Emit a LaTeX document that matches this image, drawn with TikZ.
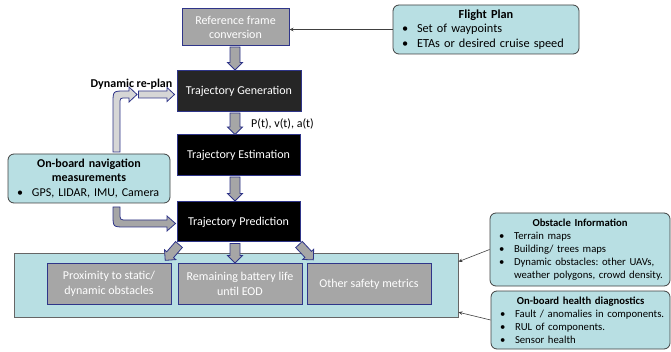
\documentclass[tikz,border=0pt]{standalone}
\usepackage{fontspec}
\setmainfont{Carlito}
\usetikzlibrary{arrows.meta,calc}
\frenchspacing
\definecolor{tealbg}{HTML}{B8DFE3}
\definecolor{gfill}{HTML}{A6A6A6}
\definecolor{navy}{HTML}{2F3589}
\definecolor{edgegray}{HTML}{404040}
\definecolor{darkbox}{HTML}{262626}
\definecolor{lightarrow}{HTML}{D6D6D6}
\newcommand\bul[1]{\par\noindent\hspace*{2pt}\makebox[15pt][l]{\textbullet}\mbox{#1}}
\newcommand\contline[1]{\par\noindent\hspace*{17pt}\mbox{#1}}
\tikzset{
  procbox/.style={draw=navy, line width=1pt, inner sep=2pt, align=center, text=white,
    font=\fontsize{12}{14.6}\selectfont},
  graybox/.style={procbox, fill=gfill, minimum width=124pt, minimum height=40pt},
  infobox/.style={draw=edgegray, line width=0.8pt, fill=tealbg, rounded corners=6pt,
    inner xsep=7pt, inner ysep=2pt, align=left},
  thinarrow/.style={draw=edgegray, line width=0.6pt, -{Stealth[length=4pt,width=3.5pt]}},
  pics/barrow/.style args={#1/#2/#3/#4}{code={
    \draw[draw=navy, fill=#4, line width=0.8pt]
      (0,-#2) -- ({#1-7.5},-#2) -- ({#1-7.5},-#3) -- (#1,0) -- ({#1-7.5},#3)
      -- ({#1-7.5},#2) -- (0,#2) -- cycle;}},
}
\begin{document}
\begin{tikzpicture}[x=1pt,y=-1pt]
\useasboundingbox (0,0) rectangle (671,352);

% main chain
\node[procbox, fill=gfill, minimum width=107pt, minimum height=37pt] (ref) at (235.5,27.5) {Reference frame\\conversion};
\node[procbox, fill=darkbox, minimum width=124pt, minimum height=41pt] (gen) at (239,91.5) {Trajectory Generation};
\node[procbox, fill=black, minimum width=123pt, minimum height=41pt] (est) at (238.5,155.5) {Trajectory Estimation};
\node[procbox, fill=black, minimum width=123pt, minimum height=40pt] (pred) at (238.5,222) {Trajectory Prediction};

% container with metrics
\node[draw=edgegray!80, line width=0.8pt, fill=tealbg, minimum width=444pt, minimum height=64pt, inner sep=0pt] (cont) at (236,285) {};
\node[graybox] (prox) at (109,284) {Proximity to static/\\dynamic obstacles};
\node[graybox] (batt) at (240,284) {Remaining battery life\\until EOD};
\node[graybox] (other) at (369,284) {Other safety metrics};

% info boxes
\node[infobox, minimum width=186pt, minimum height=49pt, text width=172pt,
  font=\fontsize{12.3}{14.6}\selectfont] (flight) at (486,29.5)
  {{\centering\bfseries Flight Plan\par}\bul{Set of waypoints}\bul{ETAs or desired cruise speed}};
\node[infobox, minimum width=162pt, minimum height=49pt, text width=148pt,
  font=\fontsize{12}{14.8}\selectfont] (nav) at (89,178.5)
  {{\centering\bfseries On-board navigation\\measurements\par}\bul{GPS, LIDAR, IMU, Camera}};
\node[infobox, minimum width=180pt, minimum height=73pt, text width=166pt,
  font=\fontsize{10.7}{12.9}\selectfont] (obst) at (580,249.5)
  {{\centering\bfseries Obstacle Information\par}\bul{Terrain maps}\bul{Building/ trees maps}\bul{Dynamic obstacles: other UAVs,}\contline{weather polygons, crowd density.}};
\node[infobox, minimum width=179pt, minimum height=58pt, text width=165pt,
  font=\fontsize{10.7}{13}\selectfont] (health) at (580.5,320)
  {{\centering\bfseries On-board health diagnostics\par}\bul{Fault / anomalies in components.}\bul{RUL of components.}\bul{Sensor health}};

% labels
\node[font=\fontsize{12}{14}\selectfont, anchor=west, inner sep=0pt] (pva) at (251,123.5) {P(t), v(t), a(t)};
\node[font=\fontsize{12}{14}\selectfont\bfseries, inner sep=0pt] (replan) at (131.5,84) {Dynamic re-plan};

% block arrows along the chain
\pic[rotate=-90] at ($(ref.south)+(-0.5,0.5)$) {barrow=23/5/7.5/gfill};
\pic[rotate=-90] at ($(gen.south)+(-4,0.5)$) {barrow=21.5/5/7.5/gfill};
\pic[rotate=-90] at ($(est.south)+(-3.5,0.5)$) {barrow=24/5/7.5/gfill};
\pic[rotate=-90] at ($(pred.south)+(-3.5,1)$) {barrow=19.5/5/7.5/gfill};
\pic[rotate=-131] at ($(pred.south west)+(2.5,2)$) {barrow=21/4.5/7.5/gfill};
\pic[rotate=-47] at ($(pred.south east)+(-1.5,2)$) {barrow=21/4.5/7.5/gfill};

% dynamic re-plan bent arrow
\draw[draw=navy, fill=lightarrow, line width=0.8pt]
  (113,152) -- (113,103) .. controls (113,91) .. (125,91) -- (129,91) -- (129,87)
  -- (137,94.5) -- (129,102) -- (129,98) -- (126,98) .. controls (120,98) .. (120,104)
  -- (120,152) -- cycle;
\pic at ($(gen.west)+(-38,3)$) {barrow=36/3.5/7/lightarrow};

% navigation to prediction bent arrow
\draw[draw=navy, fill=gfill, line width=0.8pt]
  (113,207) -- (113,215) .. controls (113,227) .. (125,227) -- (167,227) -- (167,231)
  -- (175.5,223.5) -- (167,216) -- (167,220) -- (127,220) .. controls (120,220) .. (120,213)
  -- (120,207) -- cycle;

% thin arrows
\draw[thinarrow] (flight.west) -- (flight.west -| ref.east);
\draw[thinarrow] (obst.west) -- ($(cont.north east)!0.14!(cont.south east)$);
\draw[thinarrow] (health.west) -- ($(cont.north east)!0.92!(cont.south east)$);
\end{tikzpicture}
\end{document}
